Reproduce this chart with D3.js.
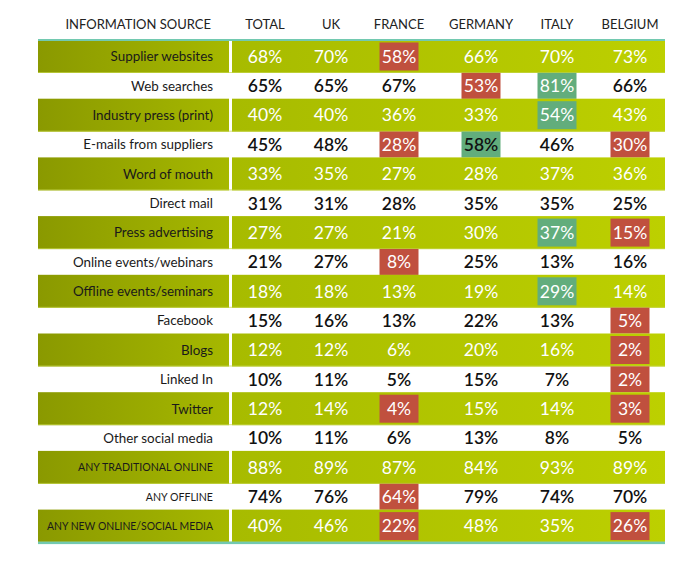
<!DOCTYPE html>
<html><head><meta charset="utf-8">
<script src="https://cdn.jsdelivr.net/npm/d3@7"></script>
<style>body{margin:0;background:#fff}svg{display:block}text{font-family:Lato,"Open Sans",sans-serif}</style>
</head><body><svg id="c" width="688" height="561"></svg>
<script>
const columns = ["TOTAL","UK","FRANCE","GERMANY","ITALY","BELGIUM"];
const sources = ["Supplier websites","Web searches","Industry press (print)","E-mails from suppliers","Word of mouth","Direct mail","Press advertising","Online events/webinars","Offline events/seminars","Facebook","Blogs","Linked In","Twitter","Other social media","ANY TRADITIONAL ONLINE","ANY OFFLINE","ANY NEW ONLINE/SOCIAL MEDIA"];
const values = [
  [68,70,58,66,70,73],
  [65,65,67,53,81,66],
  [40,40,36,33,54,43],
  [45,48,28,58,46,30],
  [33,35,27,28,37,36],
  [31,31,28,35,35,25],
  [27,27,21,30,37,15],
  [21,27,8,25,13,16],
  [18,18,13,19,29,14],
  [15,16,13,22,13,5],
  [12,12,6,20,16,2],
  [10,11,5,15,7,2],
  [12,14,4,15,14,3],
  [10,11,6,13,8,5],
  [88,89,87,84,93,89],
  [74,76,64,79,74,70],
  [40,46,22,48,35,26]
];
// flags: "L" = significantly lower (red), "H" = significantly higher (green)
const flags = [
  ["","","L","","",""],
  ["","","","L","H",""],
  ["","","","","H",""],
  ["","","L","H","","L"],
  ["","","","","",""],
  ["","","","","",""],
  ["","","","","H","L"],
  ["","","L","","",""],
  ["","","","","H",""],
  ["","","","","","L"],
  ["","","","","","L"],
  ["","","","","","L"],
  ["","","L","","","L"],
  ["","","","","",""],
  ["","","","","",""],
  ["","","L","","",""],
  ["","","L","","","L"]
];
const headerLabel = "INFORMATION SOURCE";

const svg = d3.select("#c");
const X0 = 38, labelRight = 229, dataLeft = 232, X1 = 665, Y0 = 40;
const gH = 33, wH = 25.7;
const colCenters = [265, 331, 399, 481, 557, 630];

const rowTop = i => Y0 + Math.ceil(i/2)*gH + Math.floor(i/2)*wH;
const rowH = i => i % 2 === 0 ? gH : wH;
const yScale = d3.scaleOrdinal().domain(sources).range(sources.map((s,i)=>rowTop(i)));
const xScale = d3.scaleOrdinal().domain(columns).range(colCenters);

const defs = svg.append("defs");
const g1 = defs.append("linearGradient").attr("id","gl").attr("x1","0").attr("x2","1");
g1.append("stop").attr("offset","0").attr("stop-color","#8a9900");
g1.append("stop").attr("offset","1").attr("stop-color","#a6b800");
const g2 = defs.append("linearGradient").attr("id","gd").attr("x1","0").attr("x2","1");
g2.append("stop").attr("offset","0").attr("stop-color","#a7bb00");
g2.append("stop").attr("offset","1").attr("stop-color","#bdd000");

const hdr = svg.append("g");
hdr.selectAll("text.h").data(columns).join("text").attr("class","h")
  .attr("x",d=>xScale(d)).attr("y",29).attr("text-anchor","middle")
  .attr("font-size",13).attr("fill","#222").text(d=>d);
hdr.append("text").attr("x",211).attr("y",29).attr("text-anchor","end")
  .attr("font-size",13).attr("fill","#222").text(headerLabel);

const rows = svg.selectAll("g.row").data(sources).join("g").attr("class","row")
  .attr("transform",d=>`translate(0,${yScale(d)})`);
rows.each(function(s,i){
  const g = d3.select(this);
  const h = rowH(i), green = i%2===0;
  if (green) {
    g.append("rect").attr("x",X0).attr("y",0).attr("width",labelRight-X0).attr("height",h).attr("fill","url(#gl)");
    g.append("rect").attr("x",dataLeft).attr("y",0).attr("width",X1-dataLeft).attr("height",h).attr("fill","url(#gd)");
    g.append("rect").attr("x",X0).attr("y",h-1).attr("width",X1-X0).attr("height",1).attr("fill","#c4d64a").attr("opacity",0.7);
  }
  const caps = s === s.toUpperCase();
  const lab = g.append("text").attr("x",213).attr("y",h/2).attr("dy","0.36em").attr("text-anchor","end")
    .attr("font-size",caps?10.6:13.4).attr("fill","#1a1a1a").text(s);
  const w = lab.node().getComputedTextLength();
  if (w > 166) lab.attr("textLength",166).attr("lengthAdjust","spacingAndGlyphs");
  columns.forEach((c,j)=>{
    const f = flags[i][j];
    const cx = xScale(c);
    if (f) {
      const bh = green ? 28 : 26;
      g.append("rect").attr("x",cx-19.5).attr("y",(h-bh)/2).attr("width",39).attr("height",bh)
        .attr("fill", f==="L" ? "#c0503e" : "#62ad7c");
    }
    const dark = !green && !(f==="L") && !(f==="H" && c!=="GERMANY");
    g.append("text").attr("x",cx).attr("y",h/2).attr("dy","0.36em").attr("text-anchor","middle")
      .attr("font-size",17.5).attr("font-weight", dark?600:400)
      .attr("fill", dark ? "#111" : "#fff").text(values[i][j]+"%");
  });
});
svg.append("rect").attr("x",X0).attr("y",Y0-1).attr("width",X1-X0).attr("height",2).attr("fill","#72c9b0");
const bottomY = rowTop(sources.length);
svg.append("rect").attr("x",X0).attr("y",bottomY-1).attr("width",X1-X0).attr("height",2.5).attr("fill","#72c9b0");
</script></body></html>
